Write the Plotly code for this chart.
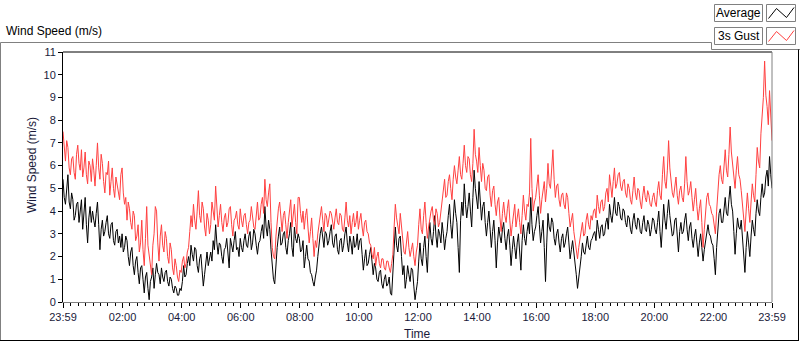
import plotly.graph_objects as go

# ---- data (2.5-minute samples from 23:59 to 23:59, one row per hour) ----
tick_labels = ["23:59", "02:00", "04:00", "06:00", "08:00", "10:00", "12:00",
               "14:00", "16:00", "18:00", "20:00", "22:00", "23:59"]
tick_minutes = [0, 121, 241, 361, 481, 601, 721, 841, 961, 1081, 1201, 1321, 1440]

gust = [
    7.5, 6.6, 6.2, 7.1, 6.8, 5.9, 5.6, 6.3, 6.4, 5.7, 5.4, 6.5, 6.9, 6.1, 5.8, 6.7, 5.5, 5.9, 6.6, 5.6, 5.2, 6.2, 6.0, 5.3,
    6.3, 5.8, 5.1, 6.0, 7.0, 5.9, 5.4, 6.5, 6.1, 5.3, 4.8, 5.7, 5.6, 6.2, 4.7, 5.3, 5.9, 5.0, 4.6, 5.5, 5.2, 4.9, 4.5, 5.6,
    5.9, 4.8, 4.3, 4.6, 3.6, 4.4, 4.1, 3.5, 3.2, 4.0, 3.8, 2.7, 2.9, 3.4, 2.2, 2.6, 3.6, 2.3, 1.6, 2.8, 4.2, 2.5, 2.0, 1.5,
    1.2, 2.5, 3.0, 4.2, 4.0, 2.6, 1.8, 2.9, 3.4, 2.5, 2.2, 3.1, 2.8, 2.0, 1.7, 2.6, 2.3, 1.5, 1.2, 1.9, 1.6, 1.1, 0.9, 1.4,
    1.3, 1.8, 2.0, 1.5, 1.7, 2.2, 2.4, 3.1, 3.8, 3.3, 4.3, 3.6, 3.2, 4.0, 4.9, 3.8, 3.5, 4.4, 4.1, 3.3, 2.9, 3.9, 3.6, 3.0,
    3.4, 4.4, 4.0, 3.6, 5.1, 4.2, 3.3, 3.8, 4.3, 3.5, 3.1, 3.7, 3.9, 3.3, 3.5, 4.1, 4.2, 3.4, 2.9, 3.6, 3.7, 4.0, 3.4, 3.2,
    4.1, 3.6, 3.3, 3.8, 3.9, 3.4, 3.0, 3.5, 3.6, 4.2, 3.8, 3.3, 3.2, 3.9, 4.4, 3.6, 3.7, 4.3, 4.6, 3.9, 5.4, 4.5, 4.2, 4.8,
    5.2, 3.5, 2.4, 2.0, 1.9, 2.9, 3.6, 4.1, 4.4, 3.6, 3.1, 3.8, 4.0, 3.4, 2.8, 3.5, 3.9, 4.5, 3.3, 3.8, 4.3, 3.5, 3.0, 4.6,
    4.6, 3.9, 3.5, 4.0, 3.2, 3.8, 4.1, 3.3, 2.6, 3.1, 3.7, 2.8, 2.0, 2.7, 2.4, 3.0, 3.5, 3.9, 4.2, 3.6, 3.1, 3.9, 3.8, 3.3,
    3.6, 4.0, 3.9, 3.4, 3.2, 3.7, 4.1, 3.5, 3.4, 3.9, 3.8, 3.2, 3.1, 3.7, 4.4, 3.6, 3.3, 3.8, 3.0, 3.5, 3.9, 3.3, 3.5, 4.0,
    3.2, 3.6, 3.9, 3.3, 2.9, 3.5, 3.6, 3.1, 3.0, 2.6, 2.5, 2.1, 1.9, 2.4, 1.6, 2.0, 2.2, 1.7, 1.5, 1.9, 1.9, 1.5, 1.4, 1.8,
    1.8, 1.5, 1.3, 1.7, 2.1, 3.3, 4.3, 3.7, 3.4, 3.0, 3.9, 3.2, 2.6, 2.2, 2.1, 2.8, 3.1, 2.4, 2.0, 2.3, 2.6, 2.0, 1.6, 2.2,
    2.5, 3.4, 4.1, 3.2, 3.0, 3.8, 4.4, 3.5, 2.8, 3.3, 3.7, 4.0, 4.2, 3.6, 3.4, 4.1, 3.9, 3.3, 3.5, 4.0, 4.4, 4.8, 5.4, 4.6,
    4.7, 5.3, 5.6, 5.0, 4.5, 5.4, 6.0, 5.5, 5.2, 5.8, 6.4, 5.6, 5.4, 6.1, 6.9, 6.0, 5.7, 6.4, 6.3, 5.6, 5.3, 6.1, 7.6, 6.5,
    6.2, 5.7, 6.8, 6.0, 5.3, 6.1, 5.8, 5.0, 4.9, 5.5, 5.6, 4.7, 4.2, 4.9, 5.1, 4.3, 3.8, 4.4, 4.6, 3.7, 3.1, 3.9, 4.4, 3.8,
    3.5, 4.1, 4.5, 3.6, 2.9, 3.4, 3.8, 4.3, 3.3, 3.7, 4.1, 3.5, 3.0, 3.8, 4.7, 4.0, 3.6, 4.3, 4.2, 4.8, 7.2, 5.0, 4.0, 4.4,
    4.6, 5.1, 5.6, 4.7, 3.9, 4.5, 4.9, 5.3, 4.4, 5.0, 6.1, 5.2, 5.0, 5.7, 6.7, 5.4, 4.6, 5.1, 5.2, 4.5, 4.2, 4.7, 4.8, 4.3,
    4.1, 4.8, 4.6, 3.9, 3.3, 3.6, 3.9, 3.1, 2.6, 2.2, 1.9, 2.4, 2.8, 3.3, 3.5, 2.9, 3.0, 3.6, 3.9, 3.4, 3.2, 3.8, 3.6, 4.0,
    4.1, 3.7, 4.7, 4.2, 3.9, 4.4, 4.5, 4.0, 4.2, 4.8, 5.0, 4.4, 5.6, 5.1, 4.6, 5.3, 5.9, 5.0, 5.2, 5.6, 5.7, 5.1, 4.9, 5.3,
    5.4, 4.8, 4.6, 5.2, 5.0, 4.5, 4.3, 4.9, 5.5, 4.8, 4.5, 5.0, 4.9, 4.4, 4.1, 4.7, 5.1, 4.6, 4.4, 4.9, 4.7, 4.3, 4.2, 4.6,
    4.8, 4.4, 4.2, 4.9, 5.3, 4.7, 4.5, 5.6, 6.4, 5.3, 5.0, 5.8, 7.1, 5.9, 5.2, 4.8, 4.6, 5.0, 5.5, 4.7, 4.3, 4.9, 5.1, 4.6,
    4.4, 5.2, 6.4, 5.3, 4.7, 4.9, 5.3, 4.6, 4.0, 4.5, 5.0, 4.2, 3.6, 4.1, 4.5, 3.5, 2.4, 3.2, 4.0, 4.6, 4.8, 4.3, 4.2, 3.9,
    3.8, 3.4, 3.0, 4.0, 4.9, 5.6, 6.0, 5.4, 5.2, 6.1, 6.7, 5.8, 5.5, 6.5, 7.7, 6.6, 6.1, 5.5, 5.0, 5.8, 6.4, 5.6, 5.4, 4.9,
    4.4, 3.8, 3.1, 4.0, 4.8, 4.1, 3.5, 4.4, 5.2, 4.7, 4.4, 5.6, 6.8, 6.2, 5.9, 7.4, 8.2, 9.0, 10.6, 9.1, 8.6, 7.8, 9.3, 8.4,
    7.1,
]

average = [
    5.4, 4.6, 4.3, 5.0, 5.6, 4.4, 4.1, 4.8, 4.5, 3.6, 3.8, 4.3, 4.4, 3.5, 4.0, 4.5, 3.2, 4.1, 4.6, 3.4, 2.6, 3.7, 4.2, 3.5,
    4.0, 3.6, 3.3, 3.9, 4.4, 3.4, 2.3, 3.2, 3.6, 2.9, 3.1, 3.5, 3.8, 3.0, 2.8, 3.4, 3.5, 2.7, 2.5, 3.1, 3.2, 2.6, 2.9, 2.4,
    3.0, 2.2, 2.4, 2.9, 2.7, 2.0, 1.6, 2.2, 2.4, 1.6, 1.2, 1.8, 2.0, 1.3, 0.8, 1.5, 1.6, 1.0, 0.4, 1.1, 1.3, 0.6, 0.1, 0.9,
    1.1, 1.5, 0.6, 1.2, 1.7, 1.3, 1.2, 0.8, 1.5, 1.1, 0.9, 1.3, 1.4, 0.9, 0.7, 1.1, 1.0, 0.6, 0.4, 0.7, 0.6, 0.3, 0.3, 0.6,
    0.5, 0.9, 1.6, 1.1, 1.2, 1.7, 2.0, 1.6, 2.5, 2.1, 1.8, 2.4, 2.3, 1.6, 1.3, 1.9, 2.1, 1.4, 0.7, 1.2, 1.8, 2.2, 1.6, 1.9,
    2.2, 1.8, 2.7, 2.3, 3.4, 2.6, 2.1, 2.6, 2.5, 2.0, 1.7, 2.3, 2.4, 2.8, 2.0, 1.5, 2.8, 2.4, 2.2, 2.7, 3.1, 2.3, 2.4, 2.0,
    2.8, 2.4, 2.2, 2.7, 3.0, 2.5, 2.4, 2.9, 3.1, 2.3, 2.6, 3.2, 3.0, 2.5, 2.1, 2.6, 2.7, 3.1, 3.4, 2.8, 4.2, 3.3, 2.9, 3.6,
    3.2, 2.3, 1.4, 1.0, 0.8, 1.7, 2.4, 2.9, 3.3, 2.5, 2.6, 3.0, 3.1, 2.4, 2.1, 2.7, 3.0, 3.5, 2.4, 2.0, 3.3, 2.8, 2.6, 3.0,
    2.8, 2.2, 2.3, 2.7, 1.5, 2.0, 2.5, 1.9, 1.8, 1.3, 1.2, 0.9, 0.7, 1.1, 1.4, 2.0, 2.6, 3.0, 3.3, 2.7, 2.4, 3.1, 3.0, 2.5,
    2.7, 3.1, 3.4, 2.6, 2.4, 2.9, 3.0, 2.3, 2.1, 2.7, 2.8, 2.2, 2.5, 3.0, 3.3, 2.6, 2.2, 2.9, 2.6, 2.1, 2.9, 2.4, 2.5, 3.0,
    2.3, 2.7, 2.8, 2.1, 1.4, 1.9, 2.3, 1.6, 1.7, 2.1, 2.4, 1.8, 1.2, 1.7, 1.5, 1.0, 0.9, 1.3, 1.4, 0.8, 0.6, 1.0, 1.2, 0.7,
    0.8, 1.1, 0.4, 0.3, 1.2, 2.6, 3.3, 2.5, 2.2, 2.8, 2.9, 2.0, 1.2, 1.6, 0.6, 1.0, 1.6, 1.2, 0.9, 1.5, 1.4, 0.7, 0.1, 0.5,
    0.9, 1.8, 2.6, 1.9, 1.6, 2.4, 2.9, 2.0, 1.3, 2.6, 3.5, 2.8, 2.5, 3.1, 3.8, 2.9, 2.4, 3.2, 3.0, 2.6, 3.5, 3.0, 2.3, 2.8,
    3.1, 3.8, 4.3, 3.4, 2.8, 3.6, 4.5, 3.9, 3.5, 2.4, 1.3, 3.6, 4.4, 3.8, 5.2, 4.3, 3.7, 4.2, 4.8, 4.0, 3.3, 4.6, 5.8, 5.0,
    4.6, 4.1, 5.3, 4.5, 3.6, 4.2, 4.4, 3.5, 2.9, 3.5, 4.0, 3.2, 2.4, 3.1, 3.6, 2.7, 1.5, 2.6, 3.3, 2.9, 2.6, 3.2, 3.5, 2.8,
    2.3, 2.9, 3.2, 2.5, 1.6, 2.3, 2.9, 2.4, 1.9, 2.6, 3.0, 2.2, 1.4, 2.7, 3.4, 2.8, 2.5, 3.1, 3.5, 3.0, 4.6, 3.4, 2.7, 3.1,
    3.3, 3.8, 4.2, 3.4, 2.6, 3.1, 3.6, 2.4, 0.9, 2.6, 3.9, 3.3, 3.1, 3.7, 3.5, 2.8, 2.5, 3.0, 3.2, 2.6, 2.2, 2.8, 3.0, 2.4,
    2.6, 3.0, 3.3, 2.6, 1.9, 2.3, 2.7, 2.2, 1.8, 1.2, 0.6, 1.0, 1.4, 2.0, 2.6, 2.2, 2.1, 2.6, 2.9, 2.4, 2.3, 2.7, 2.8, 3.0,
    3.1, 2.7, 3.6, 3.2, 2.8, 3.3, 3.4, 2.9, 3.0, 3.5, 3.7, 3.2, 4.3, 3.8, 3.5, 4.0, 4.6, 3.9, 3.8, 4.4, 4.2, 3.7, 3.6, 4.1,
    4.0, 3.5, 3.3, 3.8, 3.7, 3.2, 3.0, 3.6, 3.9, 3.4, 3.2, 3.7, 3.6, 3.1, 3.0, 3.5, 3.8, 3.2, 3.1, 3.6, 3.4, 2.9, 3.2, 3.7,
    3.6, 3.2, 3.0, 3.5, 4.0, 3.1, 2.4, 3.3, 4.3, 3.6, 3.2, 3.9, 4.5, 3.8, 3.4, 2.9, 3.0, 3.6, 3.7, 3.0, 2.2, 3.1, 3.5, 3.0,
    3.1, 3.6, 3.9, 3.2, 2.7, 3.3, 3.5, 2.8, 2.4, 2.9, 3.2, 2.6, 2.0, 2.6, 3.0, 2.4, 1.8, 2.3, 2.7, 3.2, 3.4, 3.0, 2.9, 2.6,
    2.5, 1.9, 1.2, 2.4, 3.3, 3.9, 4.1, 3.5, 3.5, 4.2, 4.6, 3.9, 3.8, 4.5, 5.1, 4.3, 4.0, 3.1, 2.1, 3.0, 3.7, 3.3, 3.2, 3.6,
    2.8, 2.2, 1.3, 2.4, 3.1, 2.6, 2.0, 2.9, 3.6, 3.2, 2.9, 3.9, 4.5, 4.0, 3.8, 4.6, 5.2, 4.6, 4.8, 5.5, 5.8, 5.1, 6.4, 5.6,
    5.0,
]

minutes = [2.5 * i for i in range(len(gust))]

# ---- geometry helpers (pixel -> paper) ----
L, R, T, B = 63, 772, 52, 302
def PX(x):
    return (x - L) / (R - L)
def PY(y):
    return (B - y) / (B - T)

TXT = "#1a1a3a"
FONT = "Liberation Sans, Arial, sans-serif"

fig = go.Figure()
fig.add_trace(go.Scatter(x=minutes, y=average, mode="lines",
                         line=dict(color="#000000", width=1), name="Average"))
fig.add_trace(go.Scatter(x=minutes, y=gust, mode="lines",
                         line=dict(color="#ff4040", width=1), name="3s Gust"))

shapes = []
def line(x0, y0, x1, y1, color, w=1):
    shapes.append(dict(type="line", xref="paper", yref="paper",
                       x0=PX(x0), y0=PY(y0), x1=PX(x1), y1=PY(y1),
                       line=dict(color=color, width=w)))
def rect(x0, y0, x1, y1, color):
    shapes.append(dict(type="rect", xref="paper", yref="paper",
                       x0=PX(x0), y0=PY(y0), x1=PX(x1), y1=PY(y1),
                       line=dict(color=color, width=1), fillcolor="white"))

# plot frame
line(L, T, R, T, "#000000")
line(R, T, R, B, "#808080")
# outer panel frame
line(0.5, 42.5, 711.5, 42.5, "#808080")
line(711.5, 42.5, 711.5, 49.5, "#808080")
line(711.5, 49.5, 800, 49.5, "#808080")
line(0.5, 42.5, 0.5, 341, "#808080")
line(0, 340.5, 799, 340.5, "#000000")
line(798.5, 49.5, 798.5, 341, "#000000")
# legend boxes
rect(714.5, 4.5, 762.5, 21.5, "#808080")
rect(766.5, 4.5, 795.5, 21.5, "#808080")
rect(714.5, 27.5, 762.5, 44.5, "#808080")
rect(766.5, 27.5, 795.5, 44.5, "#808080")
for (x0, y0, x1, y1) in [(768.5, 18.5, 776.5, 8.5), (776.5, 8.5, 786.5, 17.5), (786.5, 17.5, 794, 7.5)]:
    line(x0, y0, x1, y1, "#000000")
    line(x0, y0 + 23, x1, y1 + 23, "#ff4040")

annotations = [
    dict(text="Wind Speed (m/s)", x=PX(4), y=PY(31), xref="paper", yref="paper",
         xanchor="left", yanchor="middle", showarrow=False,
         font=dict(size=12, color="#000000", family=FONT)),
    dict(text="Average", x=PX(738.5), y=PY(13), xref="paper", yref="paper",
         xanchor="center", yanchor="middle", showarrow=False,
         font=dict(size=12, color="#000000", family=FONT)),
    dict(text="3s Gust", x=PX(738.5), y=PY(36), xref="paper", yref="paper",
         xanchor="center", yanchor="middle", showarrow=False,
         font=dict(size=12, color="#000000", family=FONT)),
    dict(text="Time", x=PX(417), y=PY(334), xref="paper", yref="paper",
         xanchor="center", yanchor="middle", showarrow=False,
         font=dict(size=12, color=TXT, family=FONT)),
    dict(text="Wind Speed (m/s)", x=PX(32), y=PY(165), xref="paper", yref="paper",
         xanchor="center", yanchor="middle", showarrow=False, textangle=-90,
         font=dict(size=12, color=TXT, family=FONT)),
]

fig.update_layout(
    width=800, height=342,
    margin=dict(l=L, r=800 - R, t=T, b=342 - B, pad=0),
    paper_bgcolor="white", plot_bgcolor="white",
    showlegend=False,
    font=dict(family=FONT, size=11, color=TXT),
    shapes=shapes, annotations=annotations,
    xaxis=dict(range=[0, 1440], tickmode="array", tickvals=tick_minutes, ticktext=tick_labels,
               ticks="outside", ticklen=5, tickcolor="#000000", tickwidth=1,
               showline=True, linecolor="#808080", linewidth=1,
               showgrid=False, zeroline=False,
               minor=dict(tickmode="linear", tick0=1, dtick=15, ticks="outside",
                          ticklen=3, tickcolor="#000000", showgrid=False),
               tickfont=dict(size=11, color=TXT)),
    yaxis=dict(range=[0, 11], tickmode="linear", tick0=0, dtick=1,
               ticks="outside", ticklen=4, tickcolor="#000000",
               showline=True, linecolor="#000000", linewidth=1,
               showgrid=False, zeroline=False,
               tickfont=dict(size=11, color=TXT)),
)

fig.write_html("out.html", config={"displayModeBar": False},
               post_script="document.body.style.margin='0';document.body.style.overflow='hidden';")
